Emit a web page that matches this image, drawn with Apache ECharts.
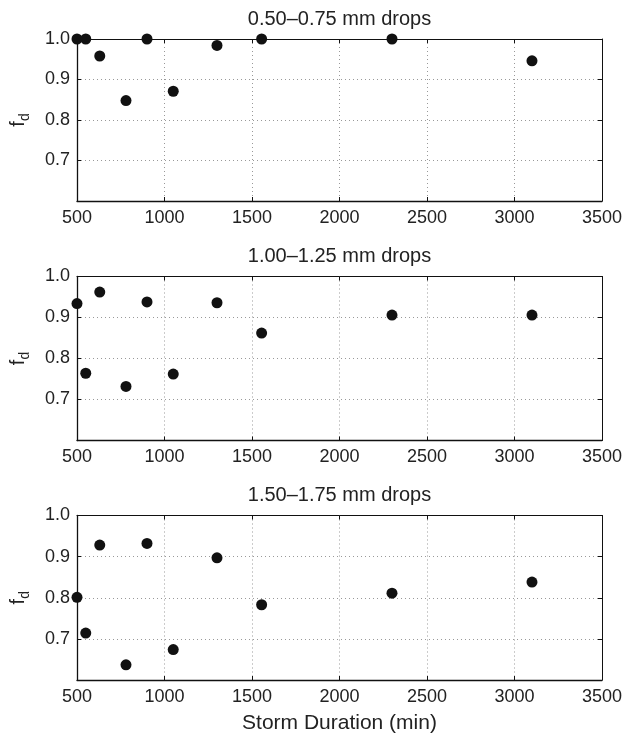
<!DOCTYPE html>
<html>
<head>
<meta charset="utf-8">
<script src="https://cdn.jsdelivr.net/npm/echarts@6/dist/echarts.min.js"></script>
<style>
html,body{margin:0;padding:0;background:#fff;}
#chart{width:625px;height:737px;}
</style>
</head>
<body>
<div id="chart"></div>
<script>
const durations = [500, 550, 630, 780, 900, 1050, 1300, 1555, 2300, 3100];
const fd_050_075 = [1.0, 1.0, 0.958, 0.848, 1.0, 0.871, 0.984, 1.0, 1.0, 0.946];
const fd_100_125 = [0.934, 0.764, 0.962, 0.732, 0.938, 0.762, 0.936, 0.862, 0.906, 0.906];
const fd_150_175 = [0.801, 0.714, 0.928, 0.637, 0.932, 0.674, 0.897, 0.783, 0.811, 0.838];
const panelTitles = ['0.50\u20130.75 mm drops', '1.00\u20131.25 mm drops', '1.50\u20131.75 mm drops'];
const xTicks = [500, 1000, 1500, 2000, 2500, 3000, 3500];
const yTicks = [0.7, 0.8, 0.9, 1.0];
const xLabel = 'Storm Duration (min)';

const FONT = 'Liberation Sans, Arial, Helvetica, sans-serif';
const TXT = '#222';
const panels = [fd_050_075, fd_100_125, fd_150_175];
const grids = [
  {left: 76, width: 529, top: 39, height: 162},
  {left: 76, width: 529, top: 276.5, height: 164},
  {left: 76, width: 529, top: 515.5, height: 164.5}
];

const xAxes = [], yAxes = [], series = [];
panels.forEach((vals, i) => {
  xAxes.push({
    type: 'value', gridIndex: i, position: 'bottom',
    min: xTicks[0], max: xTicks[xTicks.length - 1], interval: 500,
    name: i === 2 ? xLabel : '', nameLocation: 'middle', nameGap: 33,
    nameTextStyle: {fontFamily: FONT, fontSize: 21, color: TXT},
    axisLine: {show: true, onZero: false, lineStyle: {color: '#111', width: 1.3}},
    axisTick: {show: true, inside: true, length: 4, lineStyle: {color: '#111'}},
    axisLabel: {fontFamily: FONT, fontSize: 18, color: TXT, margin: 8,
      formatter: v => xTicks.indexOf(v) >= 0 ? String(v) : ''},
    splitLine: {show: true, lineStyle: {color: '#999', type: [1, 3], width: 1}}
  });
  xAxes.push({
    type: 'value', gridIndex: i, position: 'top',
    min: xTicks[0], max: xTicks[xTicks.length - 1], interval: 500,
    name: panelTitles[i], nameLocation: 'middle', nameGap: 10,
    nameTextStyle: {fontFamily: FONT, fontSize: 20, color: TXT},
    axisLine: {show: true, onZero: false, lineStyle: {color: '#111', width: 1}},
    axisTick: {show: true, inside: true, length: 4, lineStyle: {color: '#111'}},
    axisLabel: {show: false},
    splitLine: {show: false}
  });
  yAxes.push({
    type: 'value', gridIndex: i, position: 'left',
    min: 0.6, max: 1.0, interval: 0.1,
    name: '{f|f}{d|d}', nameLocation: 'middle', nameGap: 45,
    nameTextStyle: {fontFamily: FONT, fontSize: 20, color: TXT,
      rich: {
        f: {fontFamily: FONT, fontSize: 20, color: TXT, lineHeight: 24, verticalAlign: 'top'},
        d: {fontFamily: FONT, fontSize: 14, color: TXT, lineHeight: 24, verticalAlign: 'bottom'}
      }},
    axisLine: {show: true, onZero: false, lineStyle: {color: '#111', width: 1.3}},
    axisTick: {show: true, inside: true, length: 4, lineStyle: {color: '#111'}},
    axisLabel: {fontFamily: FONT, fontSize: 18, color: TXT, margin: 7,
      formatter: v => {
        const t = yTicks.find(y => Math.abs(y - v) < 1e-6);
        return t !== undefined ? t.toFixed(1) : '';
      }},
    splitLine: {show: true, lineStyle: {color: '#999', type: [1, 3], width: 1}}
  });
  yAxes.push({
    type: 'value', gridIndex: i, position: 'right',
    min: 0.6, max: 1.0, interval: 0.1,
    axisLine: {show: true, onZero: false, lineStyle: {color: '#111', width: 1}},
    axisTick: {show: true, inside: true, length: 4, lineStyle: {color: '#111'}},
    axisLabel: {show: false},
    splitLine: {show: false}
  });
  series.push({
    type: 'scatter',
    xAxisIndex: i * 2, yAxisIndex: i * 2,
    symbol: 'circle', symbolSize: 11,
    itemStyle: {color: '#111', opacity: 1},
    data: durations.map((d, k) => [d, vals[k]]),
    clip: false,
    z: 5
  });
});

const chart = echarts.init(document.getElementById('chart'), null, {renderer: 'canvas'});
chart.setOption({
  backgroundColor: '#fff',
  animation: false,
  grid: grids.map(g => Object.assign({containLabel: false}, g)),
  xAxis: xAxes,
  yAxis: yAxes,
  series: series
});
</script>
</body>
</html>
